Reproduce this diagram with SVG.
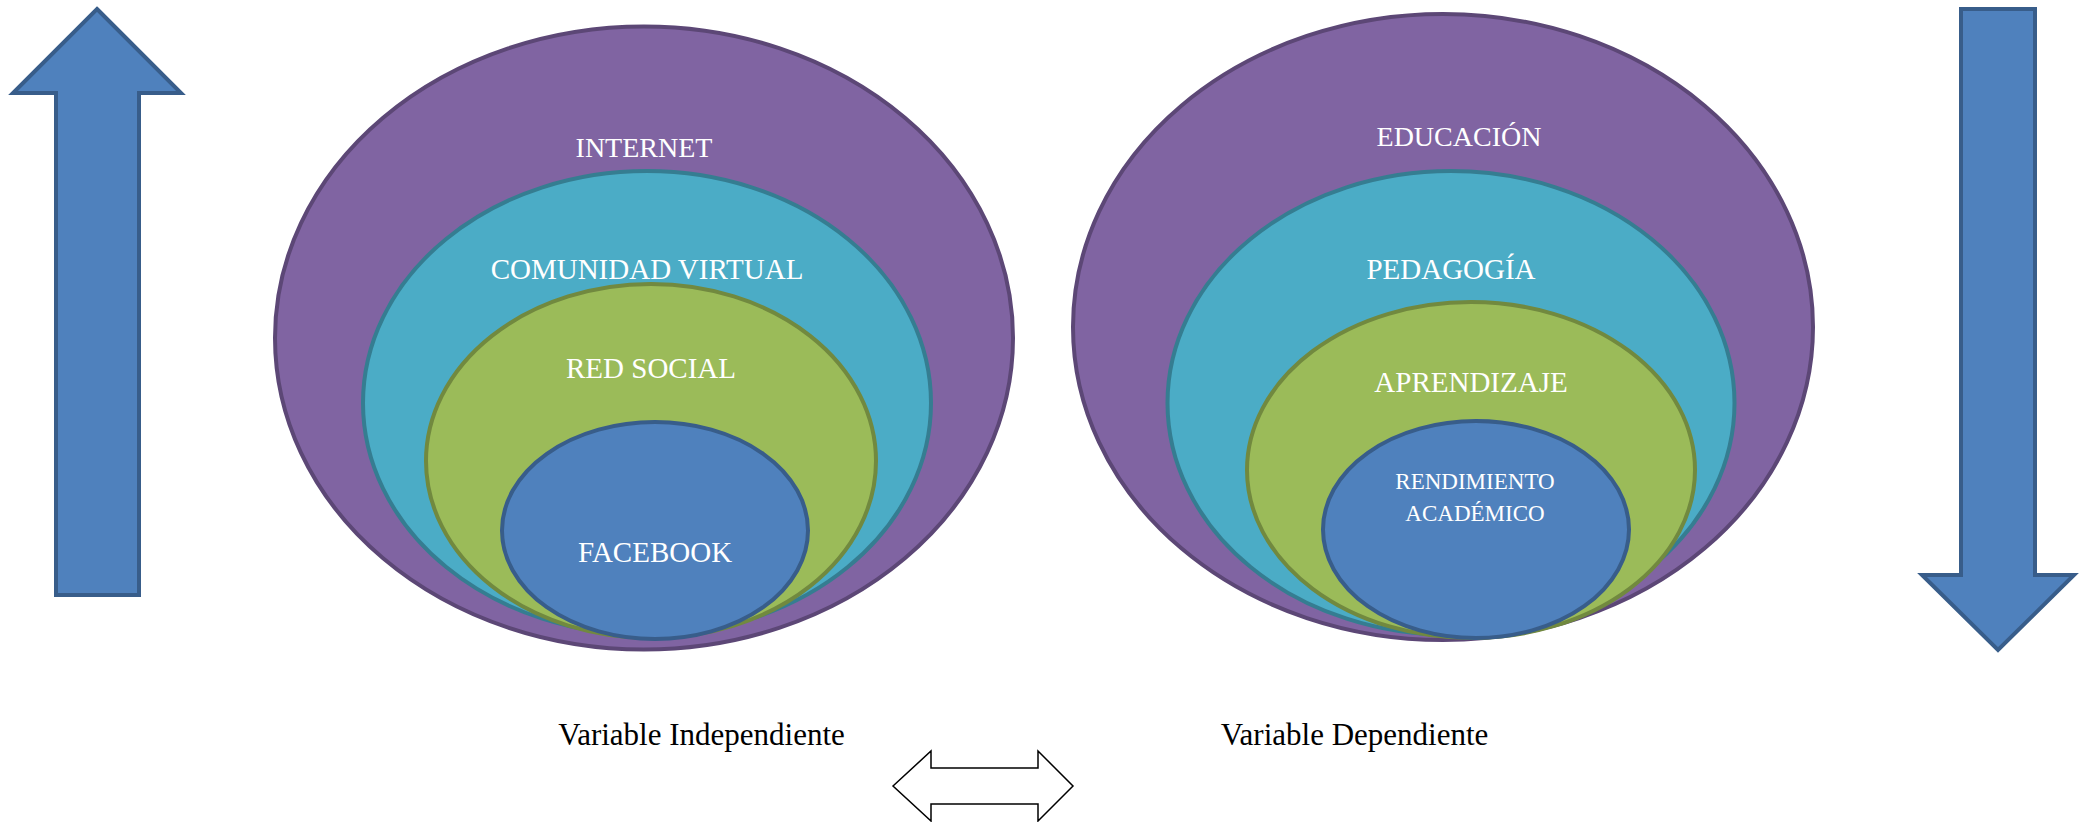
<svg xmlns="http://www.w3.org/2000/svg" width="2083" height="822" viewBox="0 0 2083 822">
<style>
.purple{fill:#8064A2;stroke:#5C4776;stroke-width:4}
.cyan{fill:#4BACC6;stroke:#357D91;stroke-width:4}
.green{fill:#9BBB59;stroke:#71893F;stroke-width:4}
.blue{fill:#4F81BD;stroke:#385D8A;stroke-width:4}
.lbl{font-family:"Liberation Serif","Times New Roman",serif;fill:#FFFFFF;text-anchor:middle}
.cap{font-family:"Liberation Serif","Times New Roman",serif;fill:#000000;text-anchor:middle;font-size:31px}
</style>
<rect width="2083" height="822" fill="#FFFFFF"/>
<g id="arrow-up">
<polygon class="blue" points="97,9 181,93 139,93 139,595 56,595 56,93 13,93"/>
</g>
<g id="arrow-down">
<polygon class="blue" points="1961,9 2035,9 2035,575 2074,575 1998,650 1922,575 1961,575"/>
</g>
<g id="internet">
<ellipse class="purple" cx="644" cy="338" rx="369" ry="311.5"/>
<text class="lbl" x="644" y="157" font-size="28">INTERNET</text>
</g>
<g id="comunidad-virtual">
<ellipse class="cyan" cx="647" cy="403" rx="284" ry="232"/>
<text class="lbl" x="647" y="279" font-size="29">COMUNIDAD VIRTUAL</text>
</g>
<g id="red-social">
<ellipse class="green" cx="651" cy="461" rx="225" ry="177"/>
<text class="lbl" x="651" y="378" font-size="29">RED SOCIAL</text>
</g>
<g id="facebook">
<ellipse class="blue" cx="655" cy="530.5" rx="153" ry="108.5"/>
<text class="lbl" x="655" y="562" font-size="29">FACEBOOK</text>
</g>
<g id="educacion">
<ellipse class="purple" cx="1443" cy="327" rx="370" ry="313"/>
<text class="lbl" x="1459" y="146" font-size="28">EDUCACIÓN</text>
</g>
<g id="pedagogia">
<ellipse class="cyan" cx="1451" cy="403" rx="283.5" ry="232"/>
<text class="lbl" x="1451" y="279" font-size="29">PEDAGOGÍA</text>
</g>
<g id="aprendizaje">
<ellipse class="green" cx="1471" cy="470" rx="224" ry="168"/>
<text class="lbl" x="1471" y="392" font-size="29">APRENDIZAJE</text>
</g>
<g id="rendimiento">
<ellipse class="blue" cx="1476" cy="529.5" rx="153" ry="108.5"/>
<text class="lbl" x="1475" y="489" font-size="23">RENDIMIENTO</text>
<text class="lbl" x="1475" y="521" font-size="23">ACADÉMICO</text>
</g>
<g id="var-independiente">
<text class="cap" x="701.5" y="745">Variable Independiente</text>
</g>
<g id="var-dependiente">
<text class="cap" x="1354.5" y="745">Variable Dependiente</text>
</g>
<g id="connectors">
<polygon points="893,786 931,751 931,768 1038,768 1038,751 1073,786 1038,821 1038,804 931,804 931,821" fill="#FFFFFF" stroke="#000000" stroke-width="1.5"/>
</g>
</svg>
